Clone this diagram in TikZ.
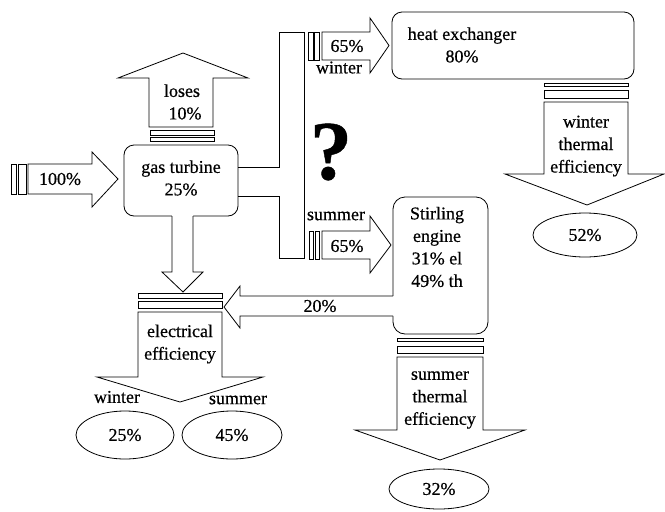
\documentclass[tikz,border=0pt]{standalone}
\usepackage{fontspec}
\setmainfont{Liberation Serif}[FakeBold=0.5]
\usetikzlibrary{shapes.geometric}
\begin{document}
\begin{tikzpicture}[x=1pt,y=-1pt, line width=0.8pt,
  txt/.style={font=\fontsize{18}{22.5}\selectfont, align=center, inner sep=0pt},
  rbox/.style={draw, fill=white, rounded corners=10pt},
  bar/.style={draw, fill=white, line width=0.7pt},
  blk/.style={draw, fill=white, line join=miter},
  oval/.style={draw, ellipse, fill=white, inner sep=0pt, font=\fontsize{18}{22}\selectfont}]
\useasboundingbox (0,0) rectangle (665,512);
\fill[white] (0,0) rectangle (665,512);

% boxes
\draw[rbox] (124,145) rectangle (238,216);
\node[txt] (gt) at (181,178) {gas turbine\\25\%};
\draw[rbox] (392,12) rectangle (634,79);
\node[txt] (hx) at (462,45) {heat exchanger\\80\%};
\draw[rbox, rounded corners=12pt] (393,197) rectangle (488,334);
\node[txt] (se) at (437,247) {Stirling\\engine\\31\% el\\49\% th};

% 100% input arrow
\draw[bar] (11,164) rectangle (16,194);
\draw[bar] (18,164) rectangle (26,194);
\draw[blk] (28,164) -- (92,164) -- (92,152) -- (118,179) -- (92,207) -- (92,194) -- (28,194) -- cycle;
\node[txt] (in) at (60,179) {100\%};

% loses arrow
\draw[bar] (150,137) rectangle (214,141);
\draw[bar] (150,130) rectangle (214,135);
\draw[blk] (149,127) -- (149,78) -- (118,78) -- (183,53) -- (248,78) -- (213,78) -- (213,127) -- cycle;
\node[txt] (loss) at (182,102) {loses\\\hspace*{6pt}10\%};

% gas turbine down arrow (merged with box)
\fill[white] (172,212) -- (172,272) -- (162,272) -- (183,292) -- (203,272) -- (193,272) -- (193,212) -- cycle;
\draw[line join=miter] (172,216) -- (172,272) -- (162,272) -- (183,292) -- (203,272) -- (193,272) -- (193,216);

% electrical efficiency arrow
\draw[bar] (138,293) rectangle (222,298);
\draw[bar] (138,301) rectangle (222,308);
\draw[blk] (138,312) -- (138,377) -- (97,377) -- (180,402) -- (263,377) -- (222,377) -- (222,312) -- cycle;
\node[txt] (el) at (180,344) {electrical\\efficiency};
\node[txt] (elw) at (117,397) {winter};
\node[txt] (els) at (238,400) {summer};
\node[oval, minimum width=98pt, minimum height=48pt] (e25) at (125,435) {25\%};
\node[oval, minimum width=100pt, minimum height=48pt] (e45) at (232,435) {45\%};

% 20% arrow from Stirling engine (merged with box)
\fill[white] (396,296) -- (240,296) -- (240,286) -- (224,307) -- (240,328) -- (240,316) -- (396,316) -- cycle;
\draw[line join=miter] (393,296) -- (240,296) -- (240,286) -- (224,307) -- (240,328) -- (240,316) -- (393,316);
\node[txt] (p20) at (320,306) {20\%};

% splitter
\draw (238,167) -- (279,167) -- (279,32) -- (304,32) -- (304,258) -- (279,258) -- (279,196) -- (238,196);
\node[font=\fontsize{84}{84}\selectfont\bfseries, inner sep=0pt] (q) at (331,152) {?};

% winter arrow
\draw[bar] (308,32) rectangle (313,60);
\draw[bar] (314.5,32) rectangle (319,60);
\draw[blk] (322,32) -- (370,32) -- (370,18) -- (389,45.5) -- (370,73) -- (370,60) -- (322,60) -- cycle;
\node[txt] (w65) at (347,46) {65\%};
\node[txt, fill=white, inner sep=0.8pt] (wl) at (339,67.5) {winter};

% summer arrow
\draw[bar] (309,231) rectangle (313,259);
\draw[bar] (315,231) rectangle (319,259);
\draw[blk] (322,231) -- (370,231) -- (370,216) -- (391,245) -- (370,273) -- (370,259) -- (322,259) -- cycle;
\node[txt] (s65) at (347,246) {65\%};
\node[txt] (sl) at (336,216) {summer};

% winter thermal arrow
\draw[bar] (544,83) rectangle (628,86.5);
\draw[bar] (544,90) rectangle (628,98);
\draw[blk] (544,102) -- (544,174) -- (505,174) -- (587,205) -- (664,174) -- (628,174) -- (628,102) -- cycle;
\node[txt] (wt) at (586,146) {winter\\thermal\\efficiency};
\node[oval, minimum width=104pt, minimum height=44pt] (e52) at (585,235) {52\%};

% summer thermal arrow
\draw[bar] (397,338) rectangle (483,341.5);
\draw[bar] (397,346) rectangle (483,353);
\draw[blk] (397,357) -- (397,430) -- (355,430) -- (440,460) -- (525,430) -- (483,430) -- (483,357) -- cycle;
\node[txt] (st) at (440,400) {summer\\thermal\\efficiency};
\node[oval, minimum width=100pt, minimum height=40pt] (e32) at (439,489) {32\%};
\end{tikzpicture}
\end{document}
